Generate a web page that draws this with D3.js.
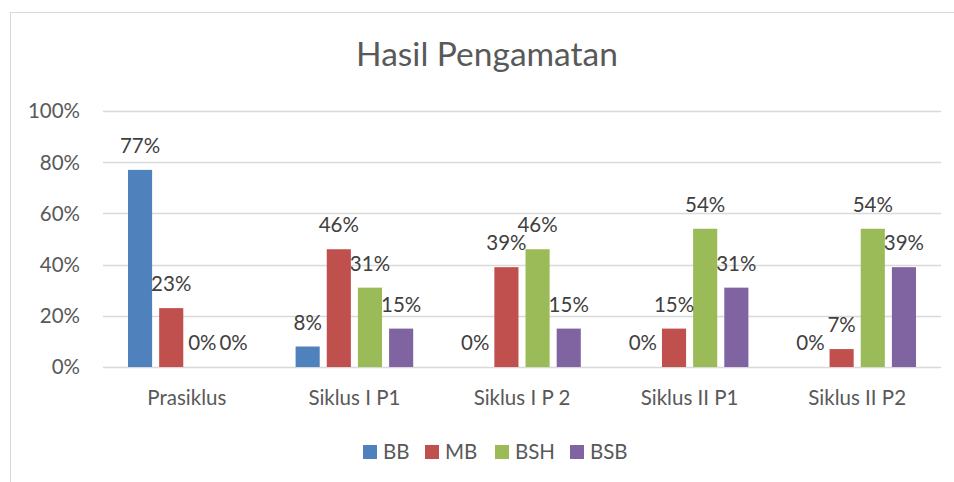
<!DOCTYPE html>
<html>
<head>
<meta charset="utf-8">
<script src="https://cdnjs.cloudflare.com/ajax/libs/d3/7.8.5/d3.min.js"></script>
<style>
  html, body { margin: 0; padding: 0; background: #fff; }
  svg { display: block; }
  text { font-family: Lato, "Noto Sans", sans-serif; fill: #595959; }
</style>
</head>
<body>
<svg id="chart" width="954" height="482"></svg>
<script>
/*global d3*/

// chart data
var categories = ["Prasiklus", "Siklus I P1", "Siklus I P 2", "Siklus II P1", "Siklus II P2"];
var seriesNames = ["BB", "MB", "BSH", "BSB"];
var seriesColors = ["#4F81BD", "#C0504D", "#9BBB59", "#8064A2"];
var valuesBB = [77, 8, 0, 0, 0];
var valuesMB = [23, 46, 39, 15, 7];
var valuesBSH = [0, 31, 46, 54, 54];
var valuesBSB = [0, 15, 15, 31, 39];
var yTicks = [0, 20, 40, 60, 80, 100];

(function () {
  "use strict";

  var svg = d3.select("#chart"),
    series = [valuesBB, valuesMB, valuesBSH, valuesBSB],
    plot = { left: 103, right: 941, top: 111, bottom: 367 },
    fontSize = "20.5px",
    x0, x1, y, groups, legend, items;

  // outer chart frame (cut off on the right and bottom like the screenshot)
  svg.append("rect")
    .attr("x", 10.5)
    .attr("y", 12.5)
    .attr("width", 960)
    .attr("height", 480)
    .attr("fill", "none")
    .attr("stroke", "#D9D9D9");

  x0 = d3.scaleBand()
    .domain(categories)
    .range([plot.left, plot.right])
    .paddingInner(0)
    .paddingOuter(0);

  x1 = d3.scaleBand()
    .domain(seriesNames)
    .range([25, x0.bandwidth() - 25])
    .paddingInner(0.226);

  y = d3.scaleLinear()
    .domain([0, 100])
    .range([plot.bottom, plot.top]);

  // gridlines
  svg.append("g")
    .selectAll("line")
    .data(yTicks)
    .join("line")
    .attr("x1", plot.left)
    .attr("x2", plot.right)
    .attr("y1", function (d) { return Math.round(y(d)) + 0.5; })
    .attr("y2", function (d) { return Math.round(y(d)) + 0.5; })
    .attr("stroke", "#D9D9D9")
    .attr("stroke-width", 1.3);

  // y tick labels
  svg.append("g")
    .selectAll("text")
    .data(yTicks)
    .join("text")
    .attr("x", 80)
    .attr("y", function (d) { return y(d); })
    .attr("dy", "0.36em")
    .attr("text-anchor", "end")
    .style("font-size", fontSize)
    .text(function (d) { return d + "%"; });

  // bars
  groups = svg.append("g")
    .selectAll("g")
    .data(categories)
    .join("g")
    .attr("transform", function (d) { return "translate(" + x0(d) + ",0)"; });

  groups.selectAll("rect")
    .data(function (d, i) {
      return seriesNames.map(function (s, k) {
        return { key: s, value: series[k][i], color: seriesColors[k] };
      });
    })
    .join("rect")
    .attr("x", function (d) { return x1(d.key); })
    .attr("y", function (d) { return y(d.value); })
    .attr("width", x1.bandwidth())
    .attr("height", function (d) { return y(0) - y(d.value); })
    .attr("fill", function (d) { return d.color; });

  // value labels
  groups.selectAll("text")
    .data(function (d, i) {
      return seriesNames.map(function (s, k) {
        return { key: s, value: series[k][i] };
      });
    })
    .join("text")
    .attr("x", function (d) { return x1(d.key) + x1.bandwidth() / 2; })
    .attr("y", function (d) { return y(d.value) - 17; })
    .attr("text-anchor", "middle")
    .style("font-size", fontSize)
    .style("fill", "#404040")
    .text(function (d) { return d.value + "%"; });

  // category labels
  svg.append("g")
    .selectAll("text")
    .data(categories)
    .join("text")
    .attr("x", function (d) { return x0(d) + x0.bandwidth() / 2; })
    .attr("y", 405)
    .attr("text-anchor", "middle")
    .style("font-size", fontSize)
    .text(function (d) { return d; });

  // title
  svg.append("text")
    .attr("x", 487)
    .attr("y", 66)
    .attr("text-anchor", "middle")
    .style("font-size", "33.5px")
    .text("Hasil Pengamatan");

  // legend
  legend = svg.append("g");
  items = legend.selectAll("g")
    .data(seriesNames)
    .join("g")
    .attr("transform", function (d, i) {
      return "translate(" + [363, 425, 495, 570][i] + ",445)";
    });
  items.append("rect")
    .attr("width", 14)
    .attr("height", 14)
    .attr("fill", function (d, i) { return seriesColors[i]; });
  items.append("text")
    .attr("x", 20)
    .attr("y", 14)
    .style("font-size", fontSize)
    .text(function (d) { return d; });
}());
</script>
</body>
</html>
